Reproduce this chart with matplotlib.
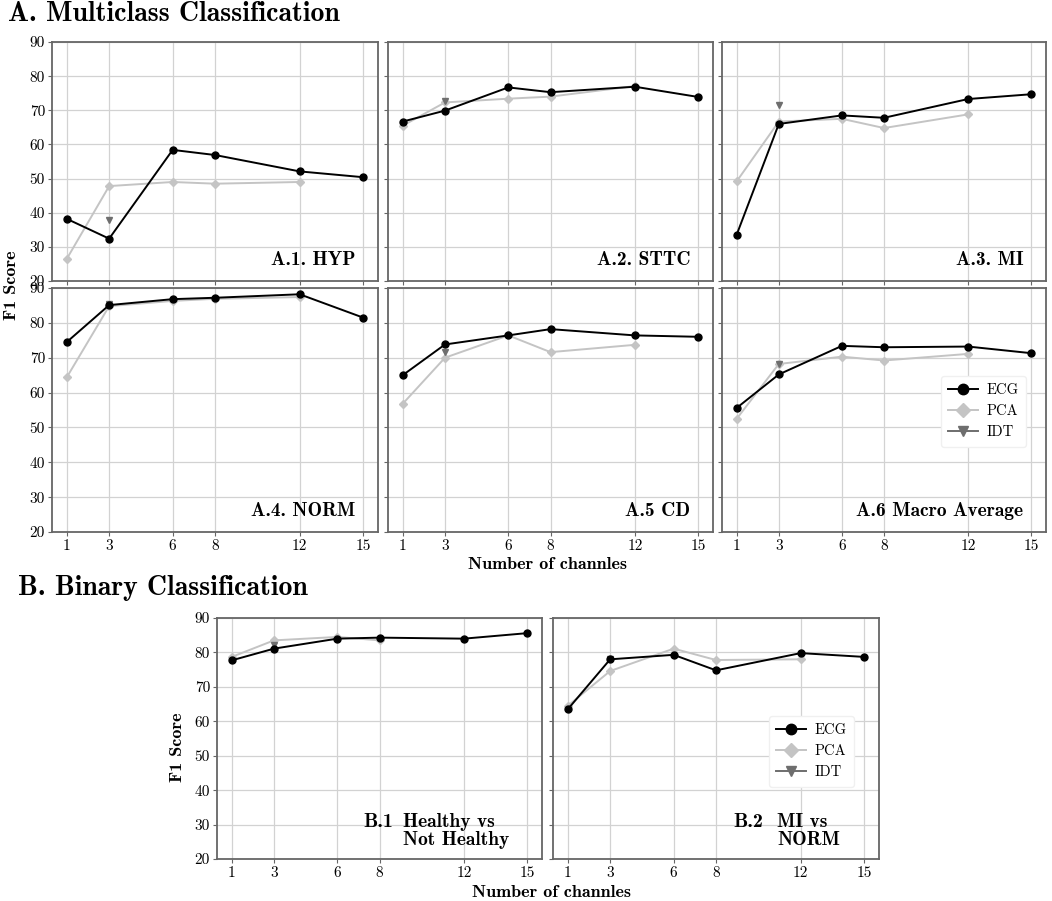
"""F1 score vs number of channels, multiclass and binary panels."""
import matplotlib
matplotlib.use("Agg")
import matplotlib.pyplot as plt

plt.rcParams["font.family"] = ["cmr10", "DejaVu Serif"]
plt.rcParams["axes.formatter.use_mathtext"] = True

channels = [1, 3, 6, 8, 12, 15]
pca_channels = [1, 3, 6, 8, 12]
idt_channel = [3]

# A. multiclass
hyp_ecg = [38.2, 32.4, 58.4, 56.9, 52.1, 50.4]
hyp_pca = [26.5, 47.8, 49.0, 48.5, 49.0]
hyp_idt = [37.9]

sttc_ecg = [66.7, 69.9, 76.7, 75.3, 76.9, 73.9]
sttc_pca = [65.5, 72.3, 73.4, 74.0, 77.1]
sttc_idt = [72.8]

mi_ecg = [33.6, 66.0, 68.5, 67.8, 73.3, 74.7]
mi_pca = [49.2, 66.7, 67.5, 64.8, 68.8]
mi_idt = [71.6]

norm_ecg = [74.5, 85.1, 86.8, 87.2, 88.2, 81.5]
norm_pca = [64.4, 84.8, 86.3, 86.9, 87.4]
norm_idt = [85.3]

cd_ecg = [65.0, 73.8, 76.4, 78.2, 76.4, 76.0]
cd_pca = [56.8, 70.0, 76.4, 71.6, 73.7]
cd_idt = [71.6]

macro_ecg = [55.6, 65.2, 73.4, 73.0, 73.2, 71.3]
macro_pca = [52.5, 68.2, 70.3, 69.2, 71.1]
macro_idt = [68.1]

# B. binary
healthy_pca_channels = [1, 3, 6, 8]
healthy_ecg = [77.7, 81.1, 84.0, 84.3, 84.0, 85.6]
healthy_pca = [78.7, 83.5, 84.5, 83.5]
healthy_idt = [82.3]

mi_norm_ecg = [63.5, 78.0, 79.3, 74.8, 79.8, 78.7]
mi_norm_pca = [64.5, 74.6, 81.1, 77.8, 78.0]
mi_norm_idt = [78.0]

yticks = [20, 30, 40, 50, 60, 70, 80, 90]

ECG_C, PCA_C, IDT_C = "black", "#c4c4c4", "#6e6e6e"
BOLD = ["cmb10", "DejaVu Serif"]


def draw(ax, ecg, pca, idt, pca_x=pca_channels, ylabels=True, xlabels=True):
    ax.plot(channels, ecg, color=ECG_C, marker="o", ms=5, lw=1.4,
            label="ECG", zorder=3)
    ax.plot(pca_x, pca, color=PCA_C, marker="D", ms=4.5, lw=1.4,
            label="PCA", zorder=2)
    ax.plot(idt_channel, idt, color=IDT_C, marker="v", ms=5, lw=1.4,
            label="IDT", zorder=2.5, linestyle="-")
    ax.set_ylim(20, 90)
    ax.set_xlim(0.3, 15.7)
    ax.set_xticks(channels)
    ax.set_yticks(yticks)
    ax.set_xticklabels([str(c) for c in channels] if xlabels else [])
    ax.set_yticklabels([str(t) for t in yticks] if ylabels else [])
    ax.grid(color="#d2d2d2", lw=0.9)
    ax.set_axisbelow(True)
    for s in ax.spines.values():
        s.set_color("#666666")
        s.set_linewidth(1.3)
    ax.tick_params(length=3, color="#666666", labelsize=11, pad=2)


def label(ax, txt, x=0.93, y=0.05):
    ax.text(x, y, txt, transform=ax.transAxes, ha="right", va="bottom",
            fontsize=14, family=BOLD)


def legend(ax, anchor):
    ax.legend(loc="lower right", bbox_to_anchor=anchor, fontsize=10.5,
              markerscale=1.5, handlelength=2.0, frameon=True,
              edgecolor="#f0f0f0", framealpha=1, borderpad=0.5,
              labelspacing=0.5, handletextpad=0.6)


fig = plt.figure(figsize=(10.52, 9.01), dpi=100)
W, H = 1052, 901


def add_axes(l, r, t, b):
    return fig.add_axes([l / W, 1 - b / H, (r - l) / W, (b - t) / H])


cols = [(52, 378), (388, 713), (722, 1046)]
rows = [(42, 281), (288, 532)]
panels = [
    (hyp_ecg, hyp_pca, hyp_idt, "A.1. HYP"),
    (sttc_ecg, sttc_pca, sttc_idt, "A.2. STTC"),
    (mi_ecg, mi_pca, mi_idt, "A.3. MI"),
    (norm_ecg, norm_pca, norm_idt, "A.4. NORM"),
    (cd_ecg, cd_pca, cd_idt, "A.5 CD"),
    (macro_ecg, macro_pca, macro_idt, "A.6 Macro Average"),
]
axes_a = []
for i, (ecg, pca, idt, name) in enumerate(panels):
    r, c = divmod(i, 3)
    ax = add_axes(cols[c][0], cols[c][1], rows[r][0], rows[r][1])
    draw(ax, ecg, pca, idt, ylabels=(c == 0), xlabels=(r == 1))
    label(ax, name)
    axes_a.append(ax)
legend(axes_a[5], (0.96, 0.32))

ax_b1 = add_axes(217, 542, 618, 859)
draw(ax_b1, healthy_ecg, healthy_pca, healthy_idt, pca_x=healthy_pca_channels)
ax_b2 = add_axes(553, 879, 618, 859)
draw(ax_b2, mi_norm_ecg, mi_norm_pca, mi_norm_idt, ylabels=False)
legend(ax_b2, (0.945, 0.27))

for ax, tag, x1, x2, l1, l2 in [
        (ax_b1, "B.1", 0.449, 0.572, "Healthy vs", "Not Healthy"),
        (ax_b2, "B.2", 0.552, 0.687, "MI vs", "NORM")]:
    ax.text(x1, 0.154, tag, transform=ax.transAxes, ha="left", va="center",
            fontsize=14.5, family=BOLD)
    ax.text(x2, 0.154, l1, transform=ax.transAxes, ha="left", va="center",
            fontsize=14, family=BOLD)
    ax.text(x2, 0.079, l2, transform=ax.transAxes, ha="left", va="center",
            fontsize=14, family=BOLD)

fig.text(8 / W, 1 - 21 / H, "A. Multiclass Classification", ha="left",
         va="baseline", fontsize=20, family=BOLD)
fig.text(18 / W, 1 - 595 / H, "B. Binary Classification", ha="left",
         va="baseline", fontsize=20, family=BOLD)
fig.text(12 / W, 1 - 285 / H, "F1 Score", rotation=90, ha="center",
         va="center", fontsize=13, family=BOLD)
fig.text(177 / W, 1 - 747 / H, "F1 Score", rotation=90, ha="center",
         va="center", fontsize=13, family=BOLD)
fig.text(548 / W, 1 - 569 / H, "Number of channles", ha="center",
         va="baseline", fontsize=13, family=BOLD)
fig.text(551 / W, 1 - 897 / H, "Number of channles", ha="center",
         va="baseline", fontsize=13, family=BOLD)

fig.savefig("out.png", dpi=100)
